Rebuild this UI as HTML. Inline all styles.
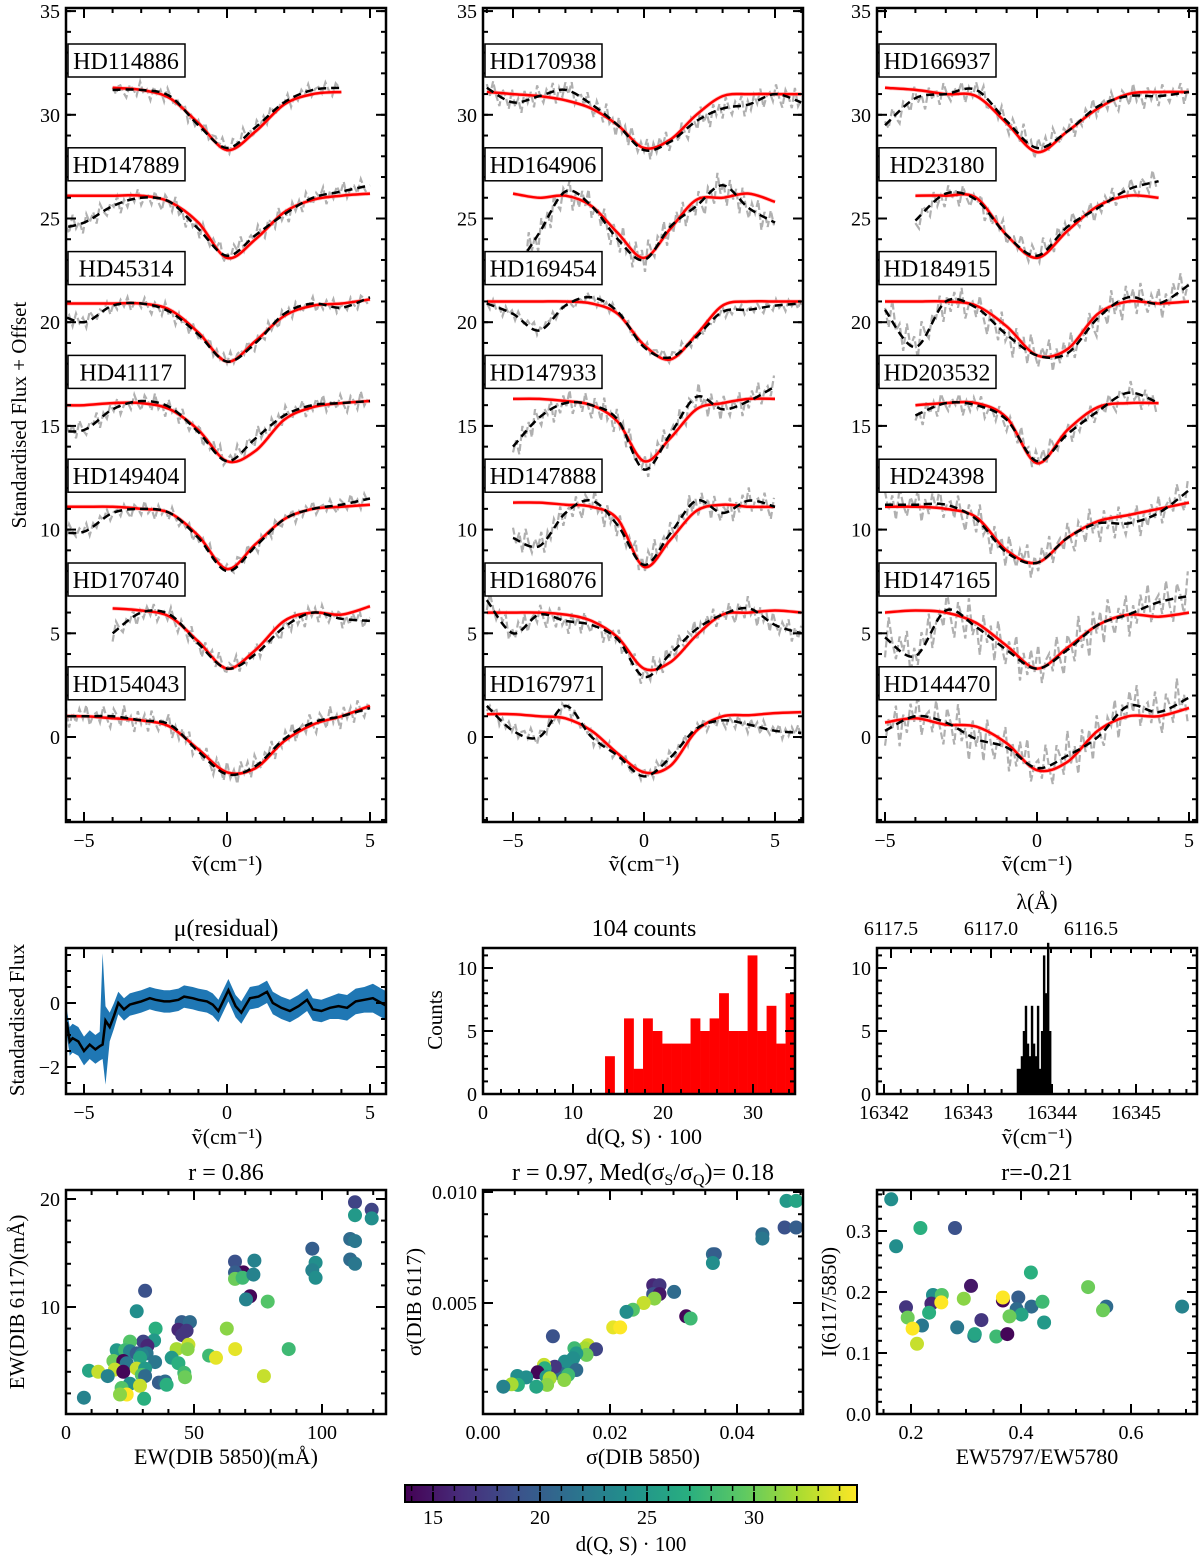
<!DOCTYPE html>
<html><head><meta charset="utf-8">
<style>
html,body{margin:0;padding:0;background:#fff;}
svg{display:block;font-family:"Liberation Serif",serif;}
</style></head>
<body>
<svg id="fig" width="1200" height="1559" viewBox="0 0 1200 1559" xmlns="http://www.w3.org/2000/svg"></svg>
<script>
// ---------------- DATA ----------------
const starNamesL = ["HD114886","HD147889","HD45314","HD41117","HD149404","HD170740","HD154043"];
const starNamesM = ["HD170938","HD164906","HD169454","HD147933","HD147888","HD168076","HD167971"];
const starNamesR = ["HD166937","HD23180","HD184915","HD203532","HD24398","HD147165","HD144470"];
const starX0L = [-4,-6,-6,-6,-6,-4,-6];
const starX0M = [-6,-5,-6,-5,-5,-6,-6];
const starX0R = [-5,-4,-5,-4,-5,-5,-5];
const fitL = [
 [31.3,31.2,30.8,29.6,28.3,29.2,30.5,31.0,31.1],
 [26.1,26.1,26.1,26.1,25.8,24.8,23.1,24.0,25.3,25.9,26.1,26.2],
 [20.9,20.9,20.9,20.9,20.6,19.5,18.1,19.1,20.3,20.8,20.9,21.1],
 [16.0,16.0,16.1,16.1,15.8,14.8,13.3,13.8,15.3,15.9,16.1,16.2],
 [11.1,11.1,11.1,11.0,10.8,9.7,8.1,9.3,10.5,11.0,11.1,11.2],
 [6.2,6.1,5.8,4.6,3.3,4.2,5.6,6.0,5.9,6.3],
 [1.0,1.0,0.9,0.8,0.5,-0.6,-1.7,-1.5,-0.2,0.6,1.0,1.5]];
const obsL = [
 [31.2,31.2,30.9,29.5,28.4,29.4,30.6,31.2,31.3],
 [24.5,24.8,25.6,26.0,25.8,24.5,23.2,24.2,25.2,26.0,26.3,26.6],
 [20.5,20.0,20.8,20.9,20.5,19.4,18.1,19.0,20.4,20.9,20.7,21.2],
 [14.8,14.8,15.8,16.2,15.9,14.7,13.3,14.4,15.5,16.0,16.1,16.2],
 [9.9,9.9,10.8,11.0,10.8,9.6,8.0,9.2,10.5,11.0,11.2,11.5],
 [5.0,6.0,5.9,4.5,3.3,4.0,5.3,6.0,5.7,5.6],
 [1.0,1.0,1.0,0.8,0.6,-0.7,-1.8,-1.4,-0.1,0.7,1.0,1.4]];
const noiseL = [0.4,0.5,0.4,0.5,0.4,0.5,0.6];
const fitM = [
 [31.1,31.0,30.9,30.7,30.3,29.5,28.4,28.8,30.0,30.9,31.0,31.0,31.0],
 [26.2,26.0,26.1,25.6,24.3,23.1,24.5,25.9,26.0,26.2,25.8],
 [21.0,21.0,21.0,21.0,20.9,20.4,18.9,18.2,19.4,20.8,21.0,21.0,21.0],
 [16.3,16.3,16.2,16.0,15.2,13.3,14.4,15.8,16.1,16.3,16.3],
 [11.3,11.3,11.2,11.1,10.5,8.2,9.5,10.9,11.2,11.1,11.1],
 [6.0,6.0,6.0,5.9,5.6,4.8,3.3,3.6,4.9,5.9,6.0,6.1,6.0],
 [1.1,1.1,1.0,0.9,0.3,-0.8,-1.7,-1.4,0.3,1.0,1.05,1.15,1.2]];
const obsM = [
 [31.3,30.6,30.9,31.2,30.5,29.5,28.3,28.7,29.7,30.3,30.5,31.0,30.6],
 [22.4,24.3,26.3,25.6,24.0,23.0,24.6,25.6,26.6,25.5,24.8],
 [20.9,20.4,19.6,20.8,21.2,20.5,18.8,18.3,19.3,20.5,20.6,20.8,20.9],
 [14.0,15.4,16.1,16.0,15.3,12.9,14.6,16.4,15.8,16.2,16.9],
 [9.6,9.2,10.8,11.4,10.2,8.3,9.8,11.4,10.8,11.4,11.1],
 [6.6,5.0,5.9,5.6,5.4,4.7,2.9,4.0,5.2,5.9,6.2,5.4,5.0],
 [1.5,0.3,0.0,1.5,0.0,-0.9,-1.9,-1.0,0.4,0.8,0.6,0.3,0.2]];
const noiseM = [0.6,0.8,0.3,0.7,0.7,0.6,0.4];
const fitR = [
 [31.3,31.2,31.0,30.9,29.6,28.2,29.2,30.3,31.0,31.1,31.1],
 [26.1,26.1,26.0,24.2,23.1,24.4,25.6,26.1,26.0],
 [21.0,21.0,21.0,20.8,19.8,18.4,18.7,20.4,21.0,20.9,21.0],
 [16.0,16.1,16.1,15.4,13.2,14.8,15.9,16.1,16.1],
 [11.1,11.1,11.0,10.6,9.0,8.4,9.6,10.4,10.7,11.0,11.3],
 [6.0,6.1,6.0,5.5,4.4,3.3,4.3,5.4,5.9,5.8,6.0],
 [0.7,0.9,0.6,0.5,-0.3,-1.6,-1.2,0.3,1.0,1.0,1.4]];
const obsR = [
 [29.5,30.8,31.0,31.2,29.7,28.4,29.2,30.4,30.9,30.9,31.1],
 [24.9,26.2,25.9,24.2,23.2,24.6,25.5,26.4,26.8],
 [20.6,18.8,21.0,20.7,19.4,18.4,18.5,20.2,21.2,20.9,21.8],
 [15.5,16.1,16.0,15.3,13.3,14.6,15.7,16.6,16.1],
 [11.2,11.2,11.2,10.5,8.9,8.4,9.6,10.3,10.3,10.8,11.9],
 [4.8,3.9,6.1,5.3,4.2,3.3,4.2,5.4,5.9,6.5,6.8],
 [0.3,1.0,0.7,-0.1,-0.5,-1.5,-0.9,0.0,1.5,1.2,1.9]];
const noiseR = [0.6,0.6,0.9,0.6,0.9,1.2,1.2];
const grayJitter = [0.3,-0.5,0.8,-0.2,-0.9,0.6,0.1,-0.7,1.0,-0.4,0.2,-1.0,0.7,-0.3,0.5,-0.8,0.9,0.0,-0.6,0.4,-0.1,0.8,-0.9,0.3,-0.5,0.6,-0.2,0.9,-0.7,0.1];

const resX = [-5.6,-5.5,-5.4,-5.2,-5.0,-4.8,-4.6,-4.45,-4.35,-4.25,-4.1,-3.95,-3.8,-3.6,-3.4,-3.2,-3.0,-2.7,-2.5,-2.2,-2.0,-1.7,-1.5,-1.2,-1.0,-0.7,-0.5,-0.3,0.05,0.3,0.5,0.8,1.1,1.4,1.6,1.9,2.2,2.5,2.8,3.0,3.3,3.6,3.9,4.2,4.5,4.8,5.1,5.4,5.6];
const resMean = [-0.6,-1.2,-1.1,-1.2,-1.5,-1.3,-1.45,-1.35,-1.3,-0.55,-0.75,-0.4,0.0,-0.2,-0.05,0.0,0.05,0.15,0.1,0.05,0.05,0.1,0.2,0.15,0.1,0.05,-0.05,-0.25,0.4,-0.1,-0.3,0.15,0.2,0.35,0.0,-0.15,-0.25,-0.1,0.1,-0.2,-0.25,-0.15,-0.1,-0.15,0.05,0.1,0.15,0.0,-0.1];
const resUp = [-0.2,-0.75,-0.65,-0.75,-1.05,-0.85,-1.0,-0.9,1.56,-0.1,-0.3,0.0,0.35,0.15,0.3,0.35,0.4,0.5,0.45,0.4,0.4,0.45,0.55,0.5,0.45,0.4,0.3,0.1,0.75,0.25,0.05,0.5,0.55,0.7,0.35,0.2,0.1,0.25,0.45,0.15,0.1,0.2,0.3,0.25,0.45,0.5,0.6,0.45,0.35];
const resLo = [-1.0,-1.65,-1.55,-1.65,-1.95,-1.75,-1.9,-1.8,-1.75,-2.55,-1.2,-0.8,-0.35,-0.55,-0.4,-0.35,-0.3,-0.2,-0.25,-0.3,-0.3,-0.25,-0.15,-0.2,-0.25,-0.3,-0.4,-0.6,0.05,-0.45,-0.65,-0.2,-0.15,0.0,-0.35,-0.5,-0.6,-0.45,-0.25,-0.55,-0.6,-0.5,-0.5,-0.55,-0.35,-0.3,-0.3,-0.45,-0.55];

const histEdges = [13.56,14.62,15.67,16.73,17.78,18.84,19.90,20.95,22.01,23.06,24.12,25.18,26.23,27.29,28.34,29.40,30.46,31.51,32.57,33.62,34.68];
const histCounts = [3,0,6,2,6,5,4,4,4,6,5,6,8,5,5,11,5,7,4,8];

const nuEdges = [16343.58,16343.604,16343.628,16343.652,16343.676,16343.70,16343.724,16343.748,16343.772,16343.796,16343.82,16343.844,16343.868,16343.892,16343.916,16343.94,16343.964,16343.988];
const nuCounts = [2,2,3,5,7,4,3,7,4,3,7,2,5,11,8,12,5];
const lamTicks = [6117.5,6117.0,6116.5];
const lamLabels = ["6117.5","6117.0","6116.5"];

const ewX = [112.9,119.4,112.9,119.4,111.0,112.9,111.0,112.9,96.2,97.5,96.2,97.5,66.0,73.6,69.3,66.0,66.0,69.0,73.2,71.9,70.3,78.8,30.9,27.6,45.2,48.4,43.9,47.1,45.4,35.0,62.8,34.4,30.2,31.8,66.1,87.0,77.3,55.9,58.6,43.2,47.8,47.5,41.3,43.9,46.2,46.5,25.0,19.8,23.1,25.0,27.6,31.5,29.6,18.5,22.4,23.7,28.9,34.8,19.1,22.4,27.6,30.9,29.6,30.9,25.0,21.7,28.9,23.7,30.5,21.1,9.0,12.6,16.3,7.0,36.3,38.7,39.3];
const ewY = [19.7,19.0,18.5,18.2,16.3,16.1,14.4,14.0,15.4,14.1,13.4,12.7,14.2,14.3,13.2,13.2,12.6,12.7,13.0,11.0,10.7,10.5,11.5,9.6,8.6,8.6,7.9,7.8,7.4,8.0,8.0,6.9,6.8,6.4,6.1,6.1,3.6,5.5,5.3,6.1,6.5,6.1,5.3,4.8,3.9,3.5,6.8,6.0,6.0,5.9,5.7,5.7,5.6,5.0,5.0,4.8,5.3,4.9,4.2,4.0,4.3,4.3,3.7,3.6,2.9,2.5,2.7,1.9,1.5,1.9,4.1,4.0,3.6,1.6,3.0,3.1,2.8];
const ewD = [18,18,25,24,21,22,21,22,20,24,23,24,19,23,14,20,30,28,23,14,23,29,19,24,20,21,16,17,17,27,31,25,18,16,34,28,33,28,34,32,33,31,25,27,28,30,29,25,28,23,20,22,23,30,14,22,26,22,33,14,33,25,29,21,24,29,33,35,27,31,26,33,23,23,20,21,27];

const sgX = [47.8,49.3,47.5,49.3,44.0,44.0,36.2,36.5,36.2,26.8,27.8,26.8,27.8,27.0,30.1,32.0,32.7,25.3,23.6,22.6,20.5,21.6,11.0,16.5,16.0,17.8,14.4,16.3,14.7,14.2,12.9,13.4,14.7,12.1,13.4,12.8,11.3,9.6,9.7,8.6,10.0,10.5,10.1,8.4,6.8,5.4,5.5,4.5,3.2];
const sgY = [9.6,9.6,8.4,8.4,8.1,7.9,7.2,7.2,6.8,5.8,5.8,5.4,5.4,5.2,5.5,4.4,4.3,5.0,4.7,4.6,3.9,3.9,3.5,3.1,2.96,2.92,2.96,2.66,2.73,2.51,2.36,2.13,1.98,1.83,1.76,1.53,2.13,2.21,2.06,1.88,1.68,1.61,1.31,1.23,1.65,1.71,1.31,1.34,1.23];
const sgD = [25,26,19,20,21,22,21,20,24,16,17,19,15,31,21,14,28,33,29,24,34,35,19,33,32,18,28,30,25,24,24,24,21,21,28,31,17,33,27,14,25,32,31,26,24,24,27,32,23];

const rtX = [0.164,0.217,0.280,0.173,0.418,0.309,0.522,0.240,0.256,0.237,0.255,0.296,0.191,0.367,0.367,0.395,0.392,0.419,0.439,0.401,0.379,0.233,0.194,0.555,0.549,0.693,0.328,0.442,0.220,0.203,0.284,0.315,0.316,0.355,0.375,0.211];
const rtY = [0.352,0.305,0.305,0.275,0.232,0.210,0.208,0.195,0.195,0.181,0.183,0.189,0.175,0.186,0.191,0.191,0.172,0.176,0.184,0.163,0.160,0.166,0.158,0.176,0.170,0.176,0.154,0.150,0.145,0.140,0.142,0.128,0.131,0.127,0.131,0.115];
const rtD = [24,27,19,24,27,15,30,24,29,16,35,31,17,14,35,20,21,21,28,26,30,27,30,21,30,23,17,25,22,35,22,22,26,28,14,33];

const cbTicks = [15,20,25,30];
const cbLabels = ["15","20","25","30"];

// ---------------- HELPERS ----------------
const NS="http://www.w3.org/2000/svg";
const svg=document.getElementById('fig');
const NUT='\u1E7D(cm\u207B\u00B9)';
function mk(tag,attrs,parent){const e=document.createElementNS(NS,tag);for(const k in attrs)e.setAttribute(k,attrs[k]);(parent||svg).appendChild(e);return e;}
function txt(s,x,y,size,anchor,parent,rot){const t=mk('text',{x:x,y:y,'font-size':size,'text-anchor':anchor||'middle',fill:'#000'},parent);t.setAttribute('xml:space','preserve');if(rot)t.setAttribute('transform','rotate(-90 '+x+' '+y+')');t.textContent=s;return t;}
function lin(d0,d1,p0,p1){return v=>p0+(v-d0)*(p1-p0)/(d1-d0);}
function range(a,b,s){const r=[];for(let v=a;v<=b+1e-9;v+=s)r.push(+v.toFixed(6));return r;}
function spline(pts){if(pts.length<2)return '';let d='M'+pts[0][0].toFixed(1)+','+pts[0][1].toFixed(1);for(let i=0;i<pts.length-1;i++){const p0=pts[i-1]||pts[i],p1=pts[i],p2=pts[i+1],p3=pts[i+2]||p2;const c1=[p1[0]+(p2[0]-p0[0])/6,p1[1]+(p2[1]-p0[1])/6],c2=[p2[0]-(p3[0]-p1[0])/6,p2[1]-(p3[1]-p1[1])/6];d+='C'+c1[0].toFixed(1)+','+c1[1].toFixed(1)+' '+c2[0].toFixed(1)+','+c2[1].toFixed(1)+' '+p2[0].toFixed(1)+','+p2[1].toFixed(1);}return d;}
const VIR=['#440154','#472d7b','#3b528b','#2c728e','#21918c','#28ae80','#5ec962','#addc30','#fde725'];
function hex(h){return [1,3,5].map(i=>parseInt(h.substr(i,2),16));}
function viridis(t){t=Math.max(0,Math.min(1,t));const f=t*8,i=Math.min(7,Math.floor(f)),u=f-i;const a=hex(VIR[i]),b=hex(VIR[i+1]);return 'rgb('+a.map((c,k)=>Math.round(c+(b[k]-c)*u)).join(',')+')';}
const dMin=13.7,dMax=34.8;
let clipN=0;
function clipFor(x0,y0,x1,y1){const id='c'+(clipN++);const cp=mk('clipPath',{id:id});mk('rect',{x:x0,y:y0,width:x1-x0,height:y1-y0},cp);return 'url(#'+id+')';}
function axes(o){
 const g=mk('g',{});  
 mk('rect',{x:o.x0,y:o.y0,width:o.x1-o.x0,height:o.y1-o.y0,fill:'none',stroke:'#000','stroke-width':2.5},g);
 const tk=(x1,y1,x2,y2)=>mk('line',{x1:x1,y1:y1,x2:x2,y2:y2,stroke:'#000','stroke-width':2},g);
 (o.xMinor||[]).forEach(v=>{const p=o.sx(v);if(p<o.x0+1||p>o.x1-1)return;tk(p,o.y1,p,o.y1-5);if(o.topTicks!==false)tk(p,o.y0,p,o.y0+5);});
 (o.xMajor||[]).forEach(v=>{const p=o.sx(v);if(p<o.x0-1||p>o.x1+1)return;tk(p,o.y1,p,o.y1-10);if(o.topTicks!==false)tk(p,o.y0,p,o.y0+10);if(o.xFmt)txt(o.xFmt(v),p,o.y1+25,20,'middle',g);});
 (o.yMinor||[]).forEach(v=>{const p=o.sy(v);if(p<o.y0+1||p>o.y1-1)return;tk(o.x0,p,o.x0+5,p);tk(o.x1,p,o.x1-5,p);});
 (o.yMajor||[]).forEach(v=>{const p=o.sy(v);if(p<o.y0-1||p>o.y1+1)return;tk(o.x0,p,o.x0+10,p);tk(o.x1,p,o.x1-10,p);if(o.yFmt)txt(o.yFmt(v),o.x0-6,p+7,20,'end',g);});
 return g;
}

// ---------------- TOP PANELS ----------------
const topY0=8, topY1=822;
const syTop=v=>737-v*20.74;
const topPanels=[
 {key:'left',x0:66,x1:386,sx:lin(0,5,227,370),names:starNamesL,x0s:starX0L,fit:fitL,obs:obsL,noise:noiseL},
 {key:'middle',x0:483,x1:803,sx:lin(0,5,644,775),names:starNamesM,x0s:starX0M,fit:fitM,obs:obsM,noise:noiseM},
 {key:'right',x0:877,x1:1197,sx:lin(0,5,1037,1189),names:starNamesR,x0s:starX0R,fit:fitR,obs:obsR,noise:noiseR}];
function interp(arr,x0,x){const f=x-x0,i=Math.floor(f);if(i<0)return arr[0];if(i>=arr.length-1)return arr[arr.length-1];const u=f-i;return arr[i]+(arr[i+1]-arr[i])*u;}
topPanels.forEach(P=>{
 const clip=clipFor(P.x0,topY0,P.x1,topY1);
 const g=mk('g',{'clip-path':clip});  
 P.names.forEach((nm,si)=>{
  const x0=P.x0s[si], fit=P.fit[si], obs=P.obs[si], nl=P.noise[si];
  const xEnd=x0+obs.length-1;
  const gp=[];let k=si*3;
  for(let x=x0;x<=xEnd+1e-9;x+=0.12){const v=interp(obs,x0,x)+grayJitter[k%grayJitter.length]*nl;gp.push(P.sx(x).toFixed(1)+','+syTop(v).toFixed(1));k++;}
  const gray=mk('polyline',{points:gp.join(' '),fill:'none',stroke:'#b0b0b0','stroke-width':2.2,'stroke-dasharray':'7,3'},g);
  
  
  const fp=fit.map((v,i)=>[P.sx(x0+i),syTop(v)]);
  const pink=mk('path',{d:spline(fp),fill:'none',stroke:'#ff9a9a','stroke-width':4,opacity:0.6},g);
  
  
  const red=mk('path',{d:spline(fp),fill:'none',stroke:'#ff0000','stroke-width':2.5},g);
  
  
  const op=obs.map((v,i)=>[P.sx(x0+i),syTop(v)]);
  const blk=mk('path',{d:spline(op),fill:'none',stroke:'#000','stroke-width':2.5,'stroke-dasharray':'8,5'},g);
  
  
 });
 axes({name:P.key+'-spectra',x0:P.x0,x1:P.x1,y0:topY0,y1:topY1,sx:P.sx,sy:syTop,xMajor:[-5,0,5],xMinor:range(-7,7,1),yMajor:range(0,35,5),yMinor:range(-4,35,1),xFmt:v=>String(v).replace('-','\u2212'),yFmt:v=>String(v)});
 P.names.forEach((nm,si)=>{
  const by=44+si*103.8;
  const lb=mk('g',{});  
  mk('rect',{x:P.x0+2,y:by,width:117,height:33,fill:'#fff',stroke:'#000','stroke-width':1.5},lb);
  txt(nm,P.x0+60,by+25,24,'middle',lb);
 });
 const xl=txt(NUT,P.sx(0),871,22,'middle');  
});
const yt=txt('Standardised Flux + Offset',26,415,21,'middle',null,true);  

// ---------------- RESIDUAL ----------------
(function(){
 const x0=66,x1=386,y0=948,y1=1094; const sx=lin(0,5,227,370), sy=v=>1003-v*32;
 const clip=clipFor(x0,y0,x1,y1);
 const g=mk('g',{'clip-path':clip});  
 let d='M'+resX.map((x,i)=>sx(x).toFixed(1)+','+sy(resUp[i]).toFixed(1)).join('L');
 for(let i=resX.length-1;i>=0;i--)d+='L'+sx(resX[i]).toFixed(1)+','+sy(resLo[i]).toFixed(1);
 const band=mk('path',{d:d+'Z',fill:'#1f77b4'},g);  
 const ln=mk('polyline',{points:resX.map((x,i)=>sx(x).toFixed(1)+','+sy(resMean[i]).toFixed(1)).join(' '),fill:'none',stroke:'#000','stroke-width':2.5},g);
  
 axes({name:'residual',x0,x1,y0,y1,sx,sy,xMajor:[-5,0,5],xMinor:range(-6,6,1),yMajor:[-2,0],yMinor:range(-2.5,1.5,0.5),xFmt:v=>String(v).replace('-','\u2212'),yFmt:v=>String(v).replace('-','\u2212')});
 const t=txt('\u03BC(residual)',226,936,24);  
 const xl=txt(NUT,227,1144,22);  
 const yl=txt('Standardised Flux',24,1020,21,'middle',null,true);  
})();

// ---------------- HISTOGRAM ----------------
(function(){
 const x0=483,x1=795,y0=948,y1=1094; const sx=lin(0,10,483,573), sy=v=>1094-v*12.6;
 const g=mk('g',{});  
 histCounts.forEach((c,i)=>{if(!c)return;const a=sx(histEdges[i]),b=sx(histEdges[i+1]);const r=mk('rect',{x:a,y:sy(c),width:b-a+0.3,height:sy(0)-sy(c),fill:'#ff0000'},g);
   });
 axes({name:'histogram',x0,x1,y0,y1,sx,sy,xMajor:[0,10,20,30],xMinor:range(0,34,2),yMajor:[0,5,10],yMinor:range(0,11,1),topTicks:false,xFmt:v=>String(v),yFmt:v=>String(v)});
 const t=txt('104 counts',644,936,24);  
 const xl=txt('d(Q, S) \u00B7 100',644,1144,22);  
 const yl=txt('Counts',442,1020,21,'middle',null,true);  
})();

// ---------------- NU HISTOGRAM ----------------
(function(){
 const x0=877,x1=1197,y0=948,y1=1094; const sx=lin(16342,16343,884,968), sy=v=>1094-v*12.6;
 const g=mk('g',{});  
 nuCounts.forEach((c,i)=>{const a=sx(nuEdges[i]),b=sx(nuEdges[i+1]);const r=mk('rect',{x:a,y:sy(c),width:b-a+0.4,height:sy(0)-sy(c),fill:'#000'},g);
   });
 axes({name:'wavenumber-histogram',x0,x1,y0,y1,sx,sy,xMajor:[16342,16343,16344,16345],xMinor:range(16342,16345.8,0.2),yMajor:[0,5,10],yMinor:range(0,11,1),topTicks:false,xFmt:v=>String(v),yFmt:v=>String(v)});
 const lx=lin(6117.0,6116.5,991,1091);
 const tg=mk('g',{});  
 range(6115.8,6117.6,0.1).forEach(v=>{const p=lx(v);if(p<x0+1||p>x1-1)return;mk('line',{x1:p,y1:y0,x2:p,y2:y0+5,stroke:'#000','stroke-width':2},tg);});
 lamTicks.forEach((v,i)=>{const p=lx(v);mk('line',{x1:p,y1:y0,x2:p,y2:y0+10,stroke:'#000','stroke-width':2},tg);txt(lamLabels[i],p,935,20,'middle',tg);});
 const t=txt('\u03BB(\u00C5)',1037,909,22);  
 const xl=txt(NUT,1037,1144,22);  
})();

// ---------------- SCATTERS ----------------
function scatter(o,X,Y,D){
 const clip=clipFor(o.x0,o.y0,o.x1,o.y1);
 const g=mk('g',{'clip-path':clip});  
 X.forEach((x,i)=>{const c=mk('circle',{cx:o.sx(x).toFixed(1),cy:o.sy(Y[i]).toFixed(1),r:7,fill:viridis((D[i]-dMin)/(dMax-dMin))},g);
   });
 axes(o);
}
scatter({name:'ew-scatter',x0:66,x1:386,y0:1190,y1:1414,sx:lin(0,50,66,194),sy:v=>1415-v*10.8,xMajor:[0,50,100],xMinor:range(0,120,10),yMajor:[10,20],yMinor:range(0,20,2),xFmt:v=>String(v),yFmt:v=>String(v)},ewX,ewY,ewD);
scatter({name:'sigma-scatter',x0:483,x1:803,y0:1190,y1:1414,sx:lin(0,20,483,610),sy:v=>1414-v*22.2,xMajor:[0,20,40],xMinor:range(0,50,5),yMajor:[5,10],yMinor:range(0,10,1),xFmt:v=>(v/1000).toFixed(2),yFmt:v=>(v/1000).toFixed(3)},sgX,sgY,sgD);
scatter({name:'ratio-scatter',x0:877,x1:1197,y0:1190,y1:1414,sx:lin(0.2,0.4,911,1021),sy:v=>1414-v*610,xMajor:[0.2,0.4,0.6],xMinor:range(0.15,0.7,0.05),yMajor:[0,0.1,0.2,0.3],yMinor:range(0,0.36,0.02),xFmt:v=>v.toFixed(1),yFmt:v=>v.toFixed(1)},rtX,rtY,rtD);
(function(){
 const t1=txt('r =  0.86',226,1180,24);  
 const t2=mk('text',{x:643,y:1180,'font-size':24,'text-anchor':'middle'}); t2.setAttribute('xml:space','preserve');
  
 const parts=[['r =  0.97, Med(\u03C3',0],['S',1],['/\u03C3',0],['Q',1],[')= 0.18',0]];
 parts.forEach(p=>{const s=mk('tspan',{},t2);s.textContent=p[0];if(p[1]){s.setAttribute('font-size',16);s.setAttribute('dy',5);}else if(s.previousSibling&&s.previousSibling.getAttribute('dy')==='5'){s.setAttribute('dy',-5);}});
 const t3=txt('r=-0.21',1037,1180,24);  
})();
[['EW(DIB 5850)(m\u00C5)',226,1464,'ew-x-axis-title'],['\u03C3(DIB 5850)',643,1464,'sigma-x-axis-title'],['EW5797/EW5780',1037,1464,'ratio-x-axis-title']].forEach(a=>{const t=txt(a[0],a[1],a[2],22);});
[['EW(DIB 6117)(m\u00C5)',24,1302,'ew-y-axis-title'],['\u03C3(DIB 6117)',421,1302,'sigma-y-axis-title'],['I(6117/5850)',836,1302,'ratio-y-axis-title']].forEach(a=>{const t=txt(a[0],a[1],a[2],21,'middle',null,true);});

// ---------------- COLORBAR ----------------
(function(){
 const x0=405,x1=857,y0=1485,y1=1502; const sx=lin(15,20,433,540);
 const g=mk('g',{});  
 const defs=mk('defs',{},g); const lg=mk('linearGradient',{id:'vir',x1:0,x2:1,y1:0,y2:0},defs);
 VIR.forEach((c,i)=>mk('stop',{offset:(i/8),'stop-color':c},lg));
 mk('rect',{x:x0,y:y0,width:x1-x0,height:y1-y0,fill:'url(#vir)',stroke:'#000','stroke-width':2},g);
 range(14,34,1).forEach(v=>{const p=sx(v);mk('line',{x1:p,y1:y1,x2:p,y2:y1-6,stroke:'#000','stroke-width':1.5},g);mk('line',{x1:p,y1:y0,x2:p,y2:y0+6,stroke:'#000','stroke-width':1.5},g);});
 cbTicks.forEach((v,i)=>{const p=sx(v);mk('line',{x1:p,y1:y1,x2:p,y2:y1-10,stroke:'#000','stroke-width':2},g);txt(cbLabels[i],p,1524,20,'middle',g);});
 const t=txt('d(Q, S) \u00B7 100',631,1551,21);  
})();
</script>
</body></html>
